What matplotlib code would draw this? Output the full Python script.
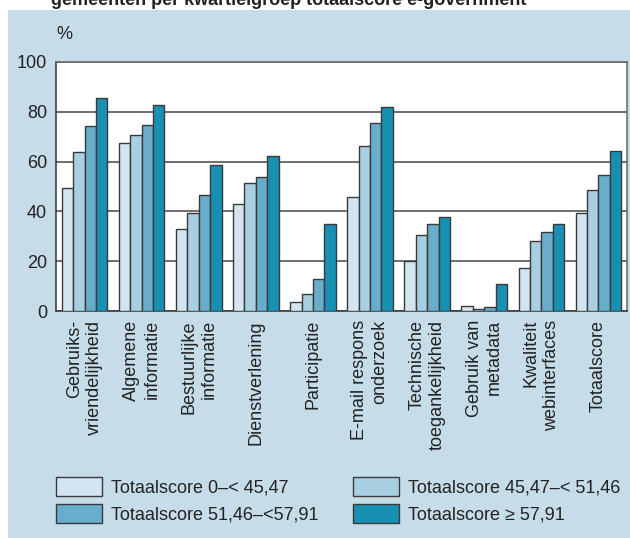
import numpy as np
import matplotlib
matplotlib.use('Agg')
import matplotlib.pyplot as plt
from matplotlib.patches import Rectangle

plt.rcParams['font.family'] = ['Liberation Sans', 'DejaVu Sans']

# ── data ───────────────────────────────────────────────────────────────────────
categories = [
    "Gebruiks-\nvriendelijkheid",
    "Algemene\ninformatie",
    "Bestuurlijke\ninformatie",
    "Dienstverlening",
    "Participatie",
    "E-mail respons\nonderzoek",
    "Technische\ntoegankelijkheid",
    "Gebruik van\nmetadata",
    "Kwaliteit\nwebinterfaces",
    "Totaalscore",
]
q1 = [49.5, 67.5, 33.0, 43.0, 3.6, 45.7, 20.2, 1.9, 17.3, 39.3]
q2 = [64.0, 70.5, 39.5, 51.3, 6.9, 66.3, 30.4, 0.9, 28.3, 48.6]
q3 = [74.3, 74.7, 46.4, 54.0, 12.8, 75.4, 35.0, 1.8, 31.7, 54.5]
q4 = [85.6, 82.9, 58.6, 62.1, 35.0, 82.0, 37.9, 10.7, 35.1, 64.4]
series_labels = [
    "Totaalscore 0\u2013< 45,47",
    "Totaalscore 45,47\u2013< 51,46",
    "Totaalscore 51,46\u2013<57,91",
    "Totaalscore \u2265 57,91",
]
yticks = [0, 20, 40, 60, 80, 100]

# ── style ──────────────────────────────────────────────────────────────────────
W, H = 630, 538
BG = "#c6dde9"
TXT = "#222222"
colors = ["#d2e5f0", "#a7cee1", "#68adcb", "#1790b4"]

fig = plt.figure(figsize=(W / 100, H / 100), dpi=100)
fig.patch.set_facecolor("white")
fig.patches.append(Rectangle((8 / W, 0), 1 - 8 / W, 1 - 10 / H,
                             transform=fig.transFigure, facecolor=BG,
                             edgecolor="none", zorder=-10))

ax = fig.add_axes([56 / W, 1 - 311 / H, (627 - 56) / W, (311 - 62) / H])
ax.set_facecolor("white")

x = np.arange(len(categories))
width = 0.2
bars = []
for i, (vals, col) in enumerate(zip([q1, q2, q3, q4], colors)):
    b = ax.bar(x + (i - 1.5) * width, vals, width, color=col,
               edgecolor="#3a3a3a", linewidth=1.0, zorder=3,
               label=series_labels[i])
    bars.append(b)

ax.set_xlim(-0.5, len(categories) - 0.5)
ax.set_ylim(0, 100)
ax.set_yticks(yticks)
ax.set_yticklabels([str(t) for t in yticks], fontsize=13, color=TXT)
ax.yaxis.grid(True, color="#555555", linewidth=1.2, zorder=0)
ax.set_axisbelow(True)
ax.tick_params(axis="y", length=0, pad=6.5)
ax.tick_params(axis="x", length=0, pad=6.5)

ax.set_xticks(x)
ax.set_xticklabels(categories, rotation=90, fontsize=13, color=TXT,
                   ha="center", va="top", multialignment="right",
                   linespacing=1.25)

for side in ["left", "bottom"]:
    ax.spines[side].set_color("#333333")
    ax.spines[side].set_linewidth(1.1)
for side in ["top", "right"]:
    ax.spines[side].set_color("#666666")
    ax.spines[side].set_linewidth(1.1)

# ── texts ──────────────────────────────────────────────────────────────────────
fig.text(51 / W, 1 - 5 / H,
         "gemeenten per kwartielgroep totaalscore e-government",
         fontsize=13, fontweight="bold", color=TXT, va="baseline", ha="left")
fig.text(56 / W, 1 - 39 / H, "%", fontsize=13, color=TXT,
         va="baseline", ha="left")

# ── legend ─────────────────────────────────────────────────────────────────────
order = [0, 2, 1, 3]
fig.legend([bars[i] for i in order], [series_labels[i] for i in order],
           ncol=2, loc="upper left", bbox_to_anchor=(56 / W, 1 - 477 / H),
           frameon=False, fontsize=13, handlelength=2.55, handleheight=1.22,
           handletextpad=0.5, labelspacing=0.42, columnspacing=1.93,
           borderpad=0, borderaxespad=0, labelcolor=TXT)

fig.savefig("out.png", dpi=100)
